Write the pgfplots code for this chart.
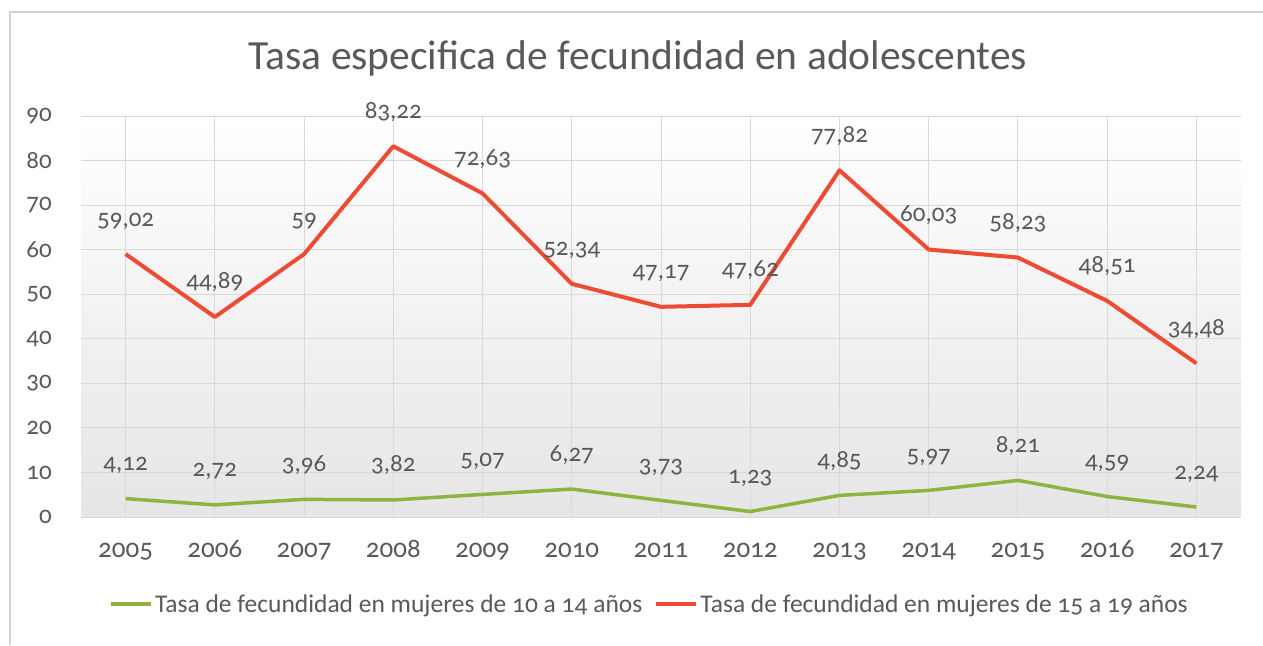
\documentclass[border=0pt]{standalone}
\usepackage{fontspec}
\setmainfont{Carlito}[Numbers=OldStyle]
\usepackage{pgfplots}
\pgfplotsset{compat=1.18}
\definecolor{txt}{HTML}{595959}
\definecolor{redl}{HTML}{EE4B35}
\definecolor{greenl}{HTML}{8DB43F}
\definecolor{gridc}{HTML}{D9D9D9}
\pgfkeys{/pgf/number format/assume math mode=true}
\begin{document}
\begin{tikzpicture}[x=1pt,y=1pt]
\useasboundingbox (0,0) rectangle (1263,645);
\draw[black!18, line width=1.5pt] (10,0) -- (10,633) -- (1263,633);
\node[text=txt, font=\fontsize{41.5}{44}\selectfont] at (638,587) {Tasa especifica de fecundidad en adolescentes};
\begin{axis}[at={(81pt,128pt)}, anchor=south west, scale only axis,
  width=1160pt, height=401pt,
  xmin=-0.5, xmax=12.5, ymin=0, ymax=90,
  ytick={0,10,...,90}, xtick={0,...,12},
  xticklabels={2005,2006,2007,2008,2009,2010,2011,2012,2013,2014,2015,2016,2017},
  axis line style={draw=none},
  major tick length=0pt,
  grid=major, grid style={gridc, line width=1pt},
  axis background/.style={shade, top color=white, bottom color=black!10},
  tick label style={text=txt, font=\fontsize{25}{27}\selectfont, inner sep=0pt},
  xticklabel style={anchor=base, yshift=-40pt, font=\fontsize{27}{29}\selectfont},
  yticklabel style={anchor=east, xshift=-29pt},
  nodes near coords={\pgfmathprintnumber[use comma,fixed,precision=2]{\pgfplotspointmeta}},
  every node near coord/.style={text=txt, font=\fontsize{25}{27}\selectfont, anchor=base, inner sep=0pt, yshift=28pt},
  legend style={at={(0.49,-0.217)}, anchor=center, draw=none, fill=none,
    legend columns=2, font=\fontsize{25.5}{27}\selectfont, text=txt,
    /tikz/every even column/.append style={column sep=10pt},
    nodes={inner xsep=2pt}},
  legend image code/.code={\draw[#1, line width=4pt] (0pt,0pt) -- (40pt,0pt);},
]
\addplot[greenl, line width=3.5pt, line join=round] coordinates {
(0,4.12) (1,2.72) (2,3.96) (3,3.82) (4,5.07) (5,6.27) (6,3.73) (7,1.23) (8,4.85) (9,5.97) (10,8.21) (11,4.59) (12,2.24)};
\addlegendentry{Tasa de fecundidad en mujeres de 10 a 14 años}
\addplot[redl, line width=4pt, line join=round] coordinates {
(0,59.02) (1,44.89) (2,59) (3,83.22) (4,72.63) (5,52.34) (6,47.17) (7,47.62) (8,77.82) (9,60.03) (10,58.23) (11,48.51) (12,34.48)};
\addlegendentry{Tasa de fecundidad en mujeres de 15 a 19 años}
\end{axis}
\end{tikzpicture}
\end{document}
